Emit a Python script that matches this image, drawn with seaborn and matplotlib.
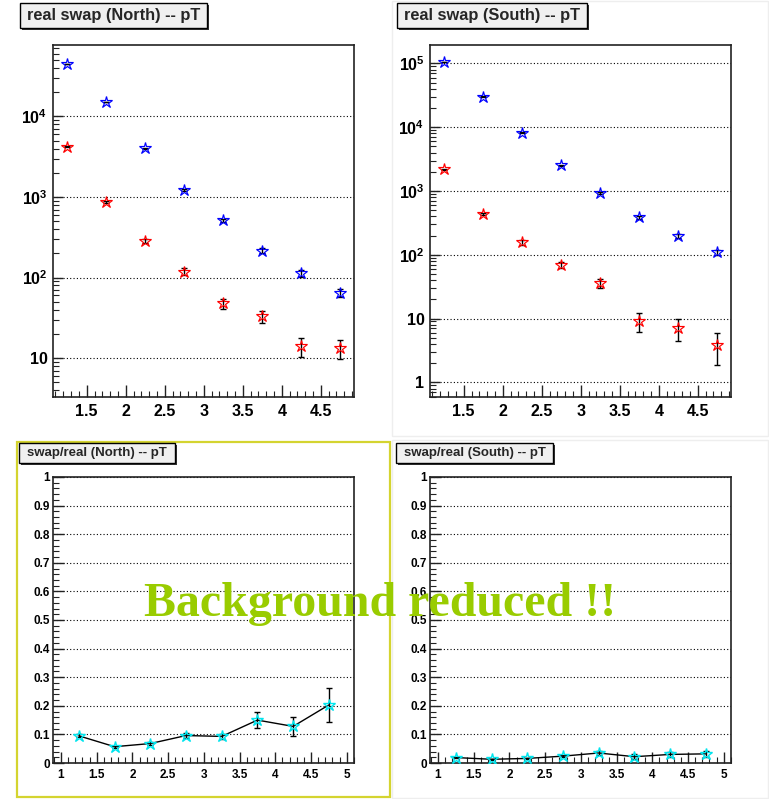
import numpy as np
import pandas as pd
import seaborn as sns
import matplotlib
matplotlib.use("Agg")
import matplotlib.pyplot as plt
from matplotlib.ticker import FixedLocator, MultipleLocator, NullFormatter, LogLocator, FuncFormatter
from matplotlib.patches import Rectangle

# ---------------- data ----------------
pt = [1.25, 1.75, 2.25, 2.75, 3.25, 3.75, 4.25, 4.75]

north_real = [44500, 15200, 4010, 1210, 514, 216, 113, 65]
north_real_err = [211, 123, 63, 35, 23, 15, 11, 8]
north_swap = [4200, 866, 287, 119, 48, 33, 14.2, 13.3]
north_swap_err = [65, 29, 17, 11, 7, 5.7, 3.8, 3.6]

south_real = [104000, 30200, 8240, 2530, 940, 388, 194, 110]
south_real_err = [322, 174, 91, 50, 31, 20, 14, 10.5]
south_swap = [2190, 437, 157, 70, 36, 9.1, 7.1, 3.9]
south_swap_err = [47, 21, 12.5, 8.4, 6, 3, 2.7, 2]

north_ratio = [0.095, 0.057, 0.068, 0.096, 0.093, 0.150, 0.128, 0.203]
north_ratio_err = [0.005, 0.004, 0.005, 0.008, 0.010, 0.028, 0.033, 0.059]
south_ratio = [0.019, 0.013, 0.016, 0.024, 0.035, 0.022, 0.030, 0.032]
south_ratio_err = [0.002, 0.002, 0.002, 0.004, 0.007, 0.008, 0.009, 0.010]

titles = ["real swap (North) -- pT", "real swap (South) -- pT",
          "swap/real (North) -- pT", "swap/real (South) -- pT"]
note = "Background reduced !!"

# ---------------- style ----------------
sns.set_theme(style="white")
plt.rcParams["font.family"] = ["Liberation Sans", "DejaVu Sans"]
plt.rcParams["font.weight"] = "bold"
plt.rcParams["mathtext.fontset"] = "custom"
plt.rcParams["mathtext.rm"] = "Liberation Sans:bold"
plt.rcParams["mathtext.bf"] = "Liberation Sans:bold"

W, H = 769, 799
fig = plt.figure(figsize=(W / 100, H / 100), dpi=100)
fig.patch.set_facecolor("white")


def px_axes(x0, y0, x1, y1):
    return fig.add_axes([x0 / W, 1 - y1 / H, (x1 - x0) / W, (y1 - y0) / H])


def title_box(x0, y0, x1, y1, text, fs):
    sh = Rectangle((x0 / W + 2 / W, 1 - y1 / H - 2 / H), (x1 - x0) / W, (y1 - y0) / H,
                   transform=fig.transFigure, facecolor="#333333", edgecolor="none", zorder=5)
    bx = Rectangle((x0 / W, 1 - y1 / H), (x1 - x0) / W, (y1 - y0) / H,
                   transform=fig.transFigure, facecolor="#f0f0f0", edgecolor="black",
                   lw=1.0, zorder=6)
    fig.patches.extend([sh, bx])
    fig.text((x0 + x1) / 2 / W, 1 - (y0 + y1) / 2 / H, text, ha="center", va="center",
             fontsize=fs, fontweight="bold", zorder=7)


def style_axes(ax):
    for s in ax.spines.values():
        s.set_color("#222222")
        s.set_linewidth(1.2)
        s.set_visible(True)
    ax.set_xlabel("")
    ax.set_ylabel("")
    ax.set_facecolor("white")


def stars(ax, x, y, yerr, color, ms):
    ax.errorbar(x, y, yerr=yerr, fmt="none", ecolor="black", elinewidth=1.0,
                capsize=2, capthick=1.0, zorder=3)
    df = pd.DataFrame({"pT": x, "val": y})
    sns.lineplot(data=df, x="pT", y="val", ax=ax, marker="*", linestyle="none",
                 markersize=ms, markerfacecolor="none", markeredgecolor=color,
                 markeredgewidth=0.85, estimator=None, errorbar=None, zorder=4)


def log_label(v, pos):
    if v == 1:
        return "1"
    if v == 10:
        return "10"
    return r"$\mathbf{10^{%d}}$" % int(round(np.log10(v)))


def top_panel(ax, real, real_err, swap, swap_err, ylim, yticks):
    ax.set_yscale("log")
    stars(ax, pt, real, real_err, "blue", 9)
    stars(ax, pt, swap, swap_err, "red", 9)
    ax.set_xlim(1.068, 4.925)
    ax.set_ylim(*ylim)
    ax.xaxis.set_major_locator(FixedLocator([1.5, 2, 2.5, 3, 3.5, 4, 4.5]))
    ax.xaxis.set_minor_locator(MultipleLocator(0.1))
    ax.xaxis.set_major_formatter(FuncFormatter(lambda v, p: "%g" % v))
    ax.yaxis.set_major_locator(FixedLocator(yticks))
    ax.yaxis.set_minor_locator(LogLocator(base=10, subs=np.arange(2, 10)))
    ax.yaxis.set_major_formatter(FuncFormatter(log_label))
    ax.yaxis.set_minor_formatter(NullFormatter())
    ax.tick_params(axis="both", which="both", direction="in", top=False, right=False,
                   left=True, bottom=True, colors="#222222", labelcolor="black")
    ax.tick_params(axis="x", which="major", length=9, width=1.0, labelsize=11.5, pad=5)
    ax.tick_params(axis="x", which="minor", length=4.5, width=0.8)
    ax.tick_params(axis="y", which="major", length=7, width=1.0, labelsize=11.5, pad=4)
    ax.tick_params(axis="y", which="minor", length=4, width=0.8)
    ax.yaxis.grid(True, which="major", linestyle=(0, (1, 2)), color="black", lw=0.8)
    ax.xaxis.grid(False)
    style_axes(ax)


def bottom_panel(ax, ratio, ratio_err):
    ax.errorbar(pt, ratio, yerr=ratio_err, fmt="none", ecolor="black", elinewidth=1.0,
                capsize=2, capthick=1.0, zorder=3)
    df = pd.DataFrame({"pT": pt, "ratio": ratio})
    sns.lineplot(data=df, x="pT", y="ratio", ax=ax, color="black", lw=1.0,
                 estimator=None, errorbar=None, zorder=2)
    sns.lineplot(data=df, x="pT", y="ratio", ax=ax, marker="*", linestyle="none",
                 markersize=9, markerfacecolor="none", markeredgecolor="#00e5ee",
                 markeredgewidth=1.0, estimator=None, errorbar=None, zorder=4)
    ax.set_xlim(0.888, 5.102)
    ax.set_ylim(0, 1)
    ax.xaxis.set_major_locator(MultipleLocator(0.5))
    ax.xaxis.set_minor_locator(MultipleLocator(0.1))
    ax.xaxis.set_major_formatter(FuncFormatter(lambda v, p: "%g" % v))
    ax.yaxis.set_major_locator(MultipleLocator(0.1))
    ax.yaxis.set_minor_locator(MultipleLocator(0.02))
    ax.yaxis.set_major_formatter(FuncFormatter(lambda v, p: "%g" % round(v, 1)))
    ax.tick_params(axis="both", which="both", direction="in", top=False, right=False,
                   left=True, bottom=True, colors="#222222", labelcolor="black")
    ax.tick_params(axis="x", which="major", length=8, width=1.0, labelsize=8.5, pad=4)
    ax.tick_params(axis="x", which="minor", length=4, width=0.8)
    ax.tick_params(axis="y", which="major", length=8, width=1.0, labelsize=8.5, pad=2)
    ax.tick_params(axis="y", which="minor", length=4, width=0.8)
    ax.yaxis.grid(True, which="major", linestyle=(0, (1, 2)), color="black", lw=0.8)
    ax.xaxis.grid(False)
    style_axes(ax)


# faint pad separators
fig.patches.append(Rectangle((392 / W, 1 - 436 / H), 376 / W, 435 / H, transform=fig.transFigure,
                             facecolor="none", edgecolor="#eeeeee", lw=1.0, zorder=0))
fig.patches.append(Rectangle((392 / W, 1 - 798 / H), 376 / W, 358 / H, transform=fig.transFigure,
                             facecolor="none", edgecolor="#eeeeee", lw=1.0, zorder=0))

ax_tl = px_axes(53, 45, 354, 397)
top_panel(ax_tl, north_real, north_real_err, north_swap, north_swap_err,
          (3.3, 7.7e4), [10, 1e2, 1e3, 1e4])
ax_tr = px_axes(430, 45, 731, 397)
top_panel(ax_tr, south_real, south_real_err, south_swap, south_swap_err,
          (0.59, 1.94e5), [1, 10, 1e2, 1e3, 1e4, 1e5])

ax_bl = px_axes(53, 477, 354, 763)
bottom_panel(ax_bl, north_ratio, north_ratio_err)
ax_br = px_axes(430, 477, 731, 763)
bottom_panel(ax_br, south_ratio, south_ratio_err)

# yellow highlight frame around bottom-left pad
fig.patches.append(Rectangle((17 / W, 1 - 797 / H), 373 / W, 355 / H, transform=fig.transFigure,
                             facecolor="none", edgecolor="#d4d430", lw=1.6, zorder=1))

title_box(20, 3, 207, 28, titles[0], 11.8)
title_box(397, 3, 587, 28, titles[1], 11.8)
title_box(19, 443, 175, 463, titles[2], 9.5)
title_box(396, 443, 553, 463, titles[3], 9.5)

fig.text(380 / W, 1 - 616 / H, note, ha="center", va="baseline",
         fontsize=34.5, fontweight="bold", color="#99cc00",
         family=["Liberation Serif", "DejaVu Serif"], zorder=10)

fig.savefig("out.png", dpi=100)
